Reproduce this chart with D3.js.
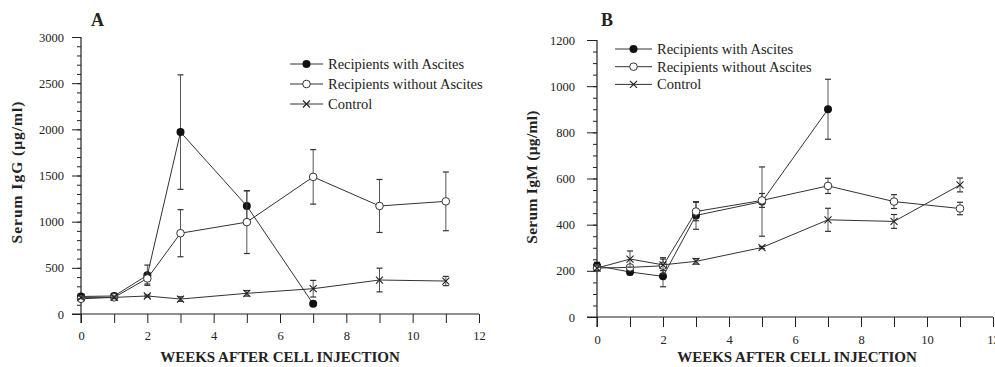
<!DOCTYPE html>
<html lang="en">
	<head>
		<meta charset="utf-8">
		<title>Serum IgG and IgM after cell injection</title>
		<script type="text/javascript" src="https://d3js.org/d3.v7.min.js"></script>
		<style type="text/css">
			body { margin: 0; background: #fff; }
			svg text { font-family: "Liberation Serif", "DejaVu Serif", serif !important; fill: #222; }
		</style>
	</head>
	<body>
		<script type="text/javascript">

			// Weeks sampled
			var weeks = [0, 1, 2, 3, 5, 7, 9, 11];
			var weeksAscites = [0, 1, 2, 3, 5, 7];

			// Panel A - serum IgG (ug/ml)
			var iggWith = [190, 195, 420, 1970, 1170, 110];
			var iggWithErr = [20, 25, 110, 620, 165, 0];
			var iggWithout = [165, 180, 385, 875, 995, 1485, 1170, 1220];
			var iggWithoutErr = [20, 20, 60, 255, 340, 295, 287, 318];
			var iggControl = [180, 180, 195, 162, 224, 274, 368, 357];
			var iggControlErr = [15, 15, 10, 25, 30, 90, 128, 50];

			// Panel B - serum IgM (ug/ml)
			var igmWith = [222, 195, 176, 440, 500, 900];
			var igmWithErr = [15, 12, 45, 60, 150, 130];
			var igmWithout = [212, 215, 222, 457, 505, 568, 500, 470];
			var igmWithoutErr = [10, 10, 35, 40, 30, 33, 30, 27];
			var igmControl = [212, 251, 226, 241, 301, 421, 414, 572];
			var igmControlErr = [10, 35, 25, 12, 5, 50, 30, 30];

			var seriesNames = ["Recipients with Ascites", "Recipients without Ascites", "Control"];
			var xTicks = [0, 2, 4, 6, 8, 10, 12];

			var serif = "'Liberation Serif', 'DejaVu Serif', serif";

			//Width and height
			var w = 995;
			var h = 367;

			var svg = d3.select("body")
						.append("svg")
						.attr("width", w)
						.attr("height", h);

			function zip(xs, ys, es) {
				return xs.map(function(x, i) { return {x: x, y: ys[i], e: es[i]}; });
			}

			function drawPanel(opt) {
				var x = d3.scaleLinear().domain([0, 12]).range([opt.left, opt.right]);
				var y = d3.scaleLinear().domain([0, opt.ymax]).range([opt.bottom, opt.top]);
				var g = svg.append("g");
				var tl = opt.tick;

				// minor y ticks
				g.append("g")
					.attr("transform", "translate(" + opt.left + ",0)")
					.call(d3.axisLeft(y).tickValues(d3.range(0, opt.ymax + 1, opt.minor)).tickSize(4).tickFormat(""))
					.call(function(a) { a.select(".domain").remove(); });

				// major y ticks
				var yAxis = g.append("g")
					.attr("transform", "translate(" + opt.left + ",0)")
					.call(d3.axisLeft(y).tickValues(opt.yTicks).tickSize(tl).tickPadding(opt.ypad).tickFormat(d3.format("d")));
				yAxis.select(".domain").remove();
				yAxis.attr("font-family", serif);
				yAxis.selectAll("text").style("font-family", serif).style("font-size", "12.5px");

				// x axis (ticks every week, labels every 2)
				var xAxis = g.append("g")
					.attr("transform", "translate(0," + opt.bottom + ")")
					.call(d3.axisBottom(x).tickValues(d3.range(0, 13, 1)).tickSize(tl).tickPadding(8)
						.tickFormat(function(d) { return xTicks.indexOf(d) >= 0 ? d : ""; }));
				xAxis.select(".domain").remove();
				xAxis.attr("font-family", serif);
				xAxis.selectAll("text").style("font-family", serif).style("font-size", "12.5px");

				g.selectAll(".tick line").attr("stroke", "#222");

				// axis lines
				g.append("line")
					.attr("x1", opt.left).attr("x2", opt.left)
					.attr("y1", opt.top).attr("y2", opt.bottom + tl)
					.attr("stroke", "#222").attr("stroke-width", 1.2);
				g.append("line")
					.attr("x1", opt.left - tl).attr("x2", opt.right)
					.attr("y1", opt.bottom).attr("y2", opt.bottom)
					.attr("stroke", "#222").attr("stroke-width", 1.2);

				// panel letter
				g.append("text")
					.attr("x", opt.letterX).attr("y", 26)
					.style("font-family", serif)
					.style("font-size", "18px").style("font-weight", "bold")
					.text(opt.letter);

				// y title
				g.append("text")
					.attr("transform", "translate(" + opt.ytitleX + "," + opt.ytitleY + ") rotate(-90)")
					.attr("text-anchor", "middle")
					.style("font-family", serif)
					.style("font-size", opt.ytitleSize).style("font-weight", "bold")
					.style("letter-spacing", opt.ytitleSpacing)
					.text(opt.ytitle);

				// x title
				g.append("text")
					.attr("x", opt.xtitleX).attr("y", 362)
					.attr("text-anchor", "middle")
					.style("font-family", serif)
					.style("font-size", "15px").style("font-weight", "bold")
					.text("WEEKS AFTER CELL INJECTION");

				var line = d3.line().x(function(d) { return x(d.x); }).y(function(d) { return y(d.y); });

				opt.series.forEach(function(s, k) {
					var sg = g.append("g");
					// error bars
					s.data.forEach(function(d) {
						if (!d.e) return;
						var cx = x(d.x);
						sg.append("line").attr("x1", cx).attr("x2", cx)
							.attr("y1", y(d.y - d.e)).attr("y2", y(d.y + d.e))
							.attr("stroke", "#444").attr("stroke-width", 0.9);
						[d.y - d.e, d.y + d.e].forEach(function(v) {
							sg.append("line").attr("x1", cx - 3).attr("x2", cx + 3)
								.attr("y1", y(v)).attr("y2", y(v))
								.attr("stroke", "#333").attr("stroke-width", 1.2);
						});
					});
					sg.append("path")
						.datum(s.data)
						.attr("d", line)
						.attr("fill", "none")
						.attr("stroke", "#333")
						.attr("stroke-width", 1);
					drawMarkers(sg, s.data.map(function(d) { return [x(d.x), y(d.y)]; }), k);
				});

				// legend
				var lg = g.append("g");
				seriesNames.forEach(function(name, k) {
					var ly = opt.legY + k * opt.legStep;
					lg.append("line")
						.attr("x1", opt.legX).attr("x2", opt.legX + opt.legLen)
						.attr("y1", ly).attr("y2", ly)
						.attr("stroke", "#333").attr("stroke-width", 1);
					drawMarkers(lg, [[opt.legX + opt.legLen / 2, ly]], k);
					lg.append("text")
						.attr("x", opt.legX + opt.legLen + 5).attr("y", ly)
						.attr("dy", "0.35em")
						.style("font-family", serif)
						.style("font-size", "14.5px")
						.text(name);
				});
			}

			function drawMarkers(sel, pts, k) {
				pts.forEach(function(p) {
					if (k === 0) {
						sel.append("circle").attr("cx", p[0]).attr("cy", p[1]).attr("r", 4)
							.attr("fill", "#111");
					} else if (k === 1) {
						sel.append("circle").attr("cx", p[0]).attr("cy", p[1]).attr("r", 3.8)
							.attr("fill", "#fff").attr("stroke", "#333").attr("stroke-width", 1);
					} else {
						sel.append("path")
							.attr("d", "M" + (p[0] - 3.5) + "," + (p[1] - 3.5) + "L" + (p[0] + 3.5) + "," + (p[1] + 3.5) +
								"M" + (p[0] - 3.5) + "," + (p[1] + 3.5) + "L" + (p[0] + 3.5) + "," + (p[1] - 3.5))
							.attr("stroke", "#222").attr("stroke-width", 1.1);
					}
				});
			}

			drawPanel({
				left: 81, right: 479, top: 37, bottom: 314, ymax: 3000, minor: 100, tick: 9, ypad: 8,
				yTicks: [0, 500, 1000, 1500, 2000, 2500, 3000],
				letter: "A", letterX: 91,
				ytitle: "Serum IgG  (\u03bcg/ml)", ytitleX: 22, ytitleY: 172, xtitleX: 280,
				ytitleSize: "15.5px", ytitleSpacing: "1px",
				legX: 290, legY: 64, legStep: 20, legLen: 33,
				series: [
					{data: zip(weeksAscites, iggWith, iggWithErr)},
					{data: zip(weeks, iggWithout, iggWithoutErr)},
					{data: zip(weeks, iggControl, iggControlErr)}
				]
			});

			drawPanel({
				left: 597, right: 993, top: 40, bottom: 317, ymax: 1200, minor: 50, tick: 10, ypad: 12,
				yTicks: [0, 200, 400, 600, 800, 1000, 1200],
				letter: "B", letterX: 601,
				ytitle: "Serum IgM (\u03bcg/ml)", ytitleX: 537, ytitleY: 177, xtitleX: 797,
				ytitleSize: "15.5px", ytitleSpacing: "0.3px",
				legX: 615, legY: 49, legStep: 17.7, legLen: 37,
				series: [
					{data: zip(weeksAscites, igmWith, igmWithErr)},
					{data: zip(weeks, igmWithout, igmWithoutErr)},
					{data: zip(weeks, igmControl, igmControlErr)}
				]
			});

		</script>
	</body>
</html>
